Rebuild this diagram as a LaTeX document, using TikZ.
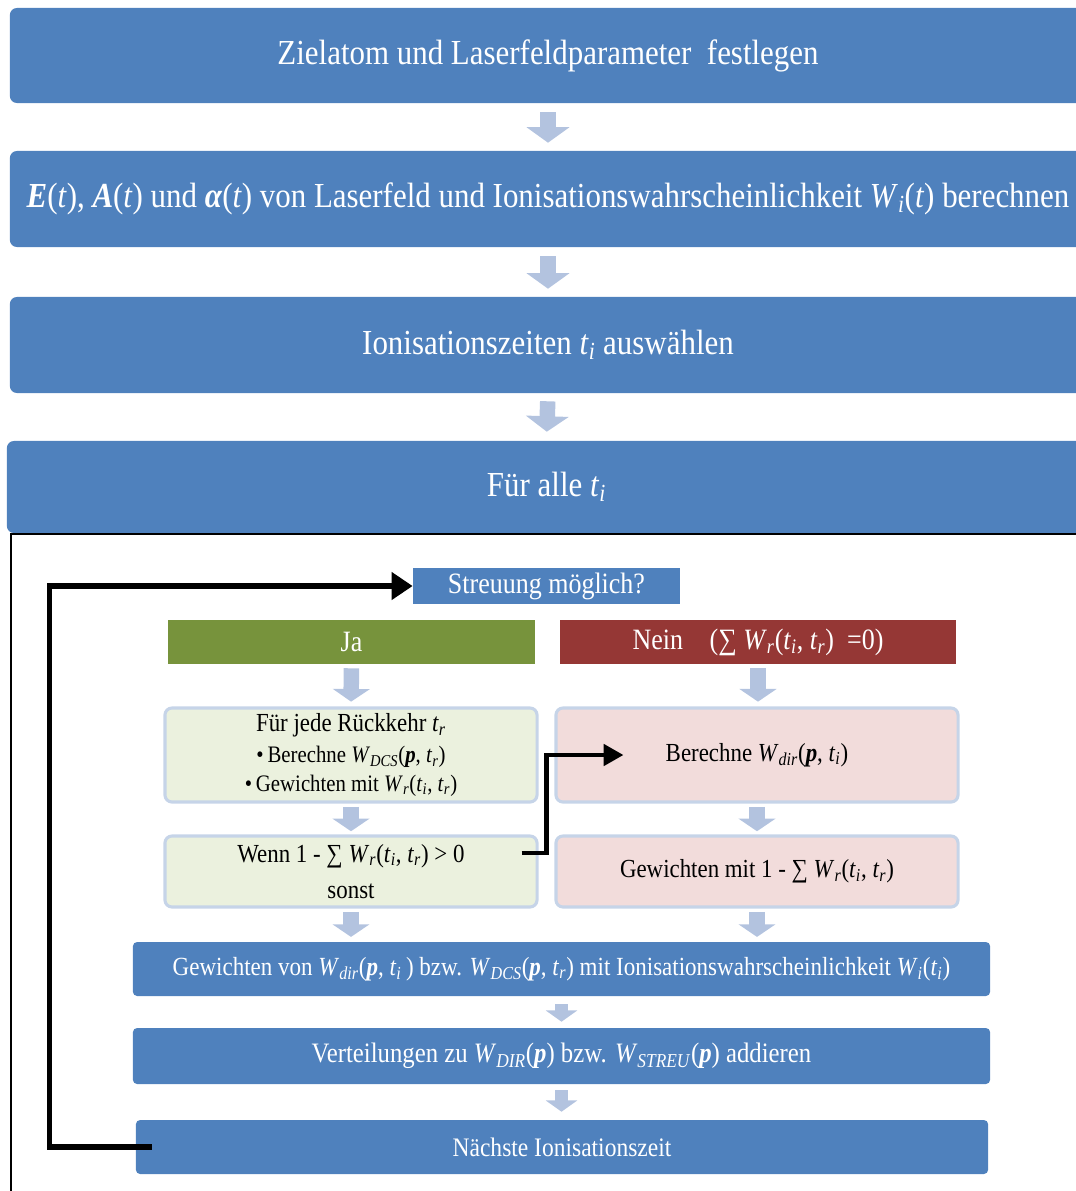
\documentclass[tikz,border=0pt]{standalone}
\usepackage{fontspec}
\setmainfont{Liberation Serif}[FakeStretch=0.88]
\usetikzlibrary{positioning,arrows.meta}
\usepackage{xcolor}

\definecolor{boxblue}{HTML}{4F81BD}
\definecolor{arrowblue}{HTML}{B3C3DF}
\definecolor{jagreen}{HTML}{77933C}
\definecolor{neinred}{HTML}{953735}
\definecolor{palegreen}{HTML}{EBF1DE}
\definecolor{palered}{HTML}{F2DCDB}
\definecolor{paleedge}{HTML}{C6D4E8}

\newcommand{\Wsub}[1]{\textit{W}\textsubscript{\textit{#1}}}
\newcommand{\tsub}[1]{\textit{t}\textsubscript{\textit{#1}}}
\newcommand{\bp}{\textbf{\textit{p}}}

\begin{document}
\begin{tikzpicture}[
  x=0.025cm,y=-0.025cm,
  line join=miter,
  bluebox/.style={fill=boxblue,text=white,rounded corners=5pt,inner sep=0pt},
  headbox/.style={bluebox,font=\fontsize{25}{30}\selectfont,minimum width=26.9cm,minimum height=2.4cm},
  lowbox/.style={bluebox,rounded corners=3pt,minimum width=21.425cm,minimum height=1.35cm},
  choice/.style={text=white,inner sep=0pt,minimum height=1.1cm,font=\fontsize{21}{25}\selectfont},
  stepbox/.style={draw=paleedge,line width=2.2pt,rounded corners=5pt,inner sep=0pt,
    minimum height=2.35cm,align=center,font=\fontsize{18.5}{26}\selectfont},
  bigdown/.style={draw=arrowblue,line width=11pt,-{Triangle[width=30pt,length=11pt]}},
  smalldown/.style={draw=arrowblue,line width=11pt,-{Triangle[width=26pt,length=9pt]}},
  tinydown/.style={draw=arrowblue,line width=9pt,-{Triangle[width=22pt,length=8pt]}},
  jump/.style={draw=black,line width=4pt,-{Triangle[width=19pt,length=15pt]}},
  skip/.style={draw=black,line width=3pt,-{Triangle[width=15pt,length=14pt]}}
]
  \path[use as bounding box] (0,0) rectangle (1076,1191);
  \clip (0,0) rectangle (1076,1191);

  % main sequence
  \node[headbox,minimum height=2.375cm] (ziel) at (548,55.5) {Zielatom und Laserfeldparameter\ \ festlegen};
  \node[headbox] (feld) at (548,199) {\textbf{\textit{E}}(\textit{t}), \textbf{\textit{A}}(\textit{t}) und \textbf{\textit{α}}(\textit{t}) von Laserfeld und Ionisationswahrscheinlichkeit \Wsub{i}(\textit{t}) berechnen};
  \node[headbox] (zeiten) at (548,345) {Ionisationszeiten \tsub{i} auswählen};
  \node[headbox,minimum width=26.975cm,minimum height=2.3cm] (alle) at (546.5,487) {Für alle \tsub{i}};

  \draw[bigdown,shorten <=0.225cm,shorten >=0.2cm] (ziel.south) -- (feld.north);
  \draw[bigdown,shorten <=0.225cm,shorten >=0.2cm] (feld.south) -- (zeiten.north);
  \draw[bigdown,shorten <=0.2cm,shorten >=0.225cm] (zeiten.south) -- (alle.north);

  % loop frame
  \draw[line width=1.5pt] (11,1200) -- (11,534) -- (1090,534);

  % decision
  \node[bluebox,rounded corners=0pt,minimum width=6.675cm,minimum height=0.9cm,
    font=\fontsize{21}{25}\selectfont] (streu) at (546.5,586) {Streuung möglich?};
  \node[choice,fill=jagreen,minimum width=9.175cm] (ja) at (351.5,642) {Ja};
  \node[choice,fill=neinred,minimum width=9.9cm] (nein) at (758,642)
    {Nein\hspace{0.9em}(∑ \Wsub{r}(\tsub{i}, \tsub{r})\ \ =0)};

  % branches
  \node[stepbox,fill=palegreen,minimum width=9.3cm] (rueck) at (351,755)
    {Für jede Rückkehr \tsub{r}\\[-4pt]
     {\fontsize{16.8}{24}\selectfont •\,Berechne \Wsub{DCS}(\bp, \tsub{r})}\\[-6pt]
     {\fontsize{16.8}{24}\selectfont •\,Gewichten mit \Wsub{r}(\tsub{i}, \tsub{r})}};
  \node[stepbox,fill=palered,minimum width=10.05cm] (direkt) at (757,755)
    {Berechne \Wsub{dir}(\bp, \tsub{i})};
  \node[stepbox,fill=palegreen,minimum width=9.3cm,minimum height=1.775cm] (wenn) at (351,871.5)
    {Wenn 1 - ∑ \Wsub{r}(\tsub{i},\ \tsub{r}) > 0\\[0pt] sonst};
  \node[stepbox,fill=palered,minimum width=10.05cm,minimum height=1.775cm] (gewdir) at (757,871.5)
    {Gewichten mit 1 - ∑ \Wsub{r}(\tsub{i},\ \tsub{r})};

  \draw[smalldown,shorten <=0.1cm,shorten >=0.12cm] (ja.south) -- (rueck.north);
  \draw[smalldown,shorten <=0.1cm,shorten >=0.12cm] (nein.south) -- (nein.south |- direkt.north);
  \draw[smalldown,shorten <=0.08cm,shorten >=0.08cm] (rueck.south) -- (wenn.north);
  \draw[smalldown,shorten <=0.08cm,shorten >=0.08cm] (direkt.south) -- (gewdir.north);

  % common steps
  \node[lowbox,font=\fontsize{18.6}{22}\selectfont] (gewicht) at (561.5,969)
    {Gewichten von \Wsub{dir}(\bp, \tsub{i}\,) bzw. \Wsub{DCS}(\bp,\ \tsub{r}) mit Ionisationswahrscheinlichkeit \Wsub{i}(\tsub{i})};
  \node[lowbox,minimum height=1.4cm,font=\fontsize{20}{24}\selectfont] (vert) at (561.5,1056)
    {Verteilungen zu \Wsub{DIR}(\bp) bzw. \Wsub{STREU}(\bp) addieren};
  \node[lowbox,minimum width=21.3cm,font=\fontsize{19}{22}\selectfont] (naechst) at (562,1147)
    {Nächste Ionisationszeit};

  \draw[smalldown,shorten <=0.08cm,shorten >=0.12cm] (wenn.south) -- (wenn.south |- gewicht.north);
  \draw[smalldown,shorten <=0.08cm,shorten >=0.12cm] (gewdir.south) -- (gewdir.south |- gewicht.north);
  \draw[tinydown,shorten <=0.2cm,shorten >=0.15cm] (gewicht.south) -- (vert.north);
  \draw[tinydown,shorten <=0.15cm,shorten >=0.2cm] (vert.south) -- (vert.south |- naechst.north);

  % jumps
  \draw[jump] ([xshift=0.4cm]naechst.west) -- ++(-102,0) |- (streu.west);
  \draw[skip] ([shift={(-17,-18.5)}]wenn.east) -- ++(25,0) |- ([xshift=1.725cm]direkt.west);
\end{tikzpicture}
\end{document}
